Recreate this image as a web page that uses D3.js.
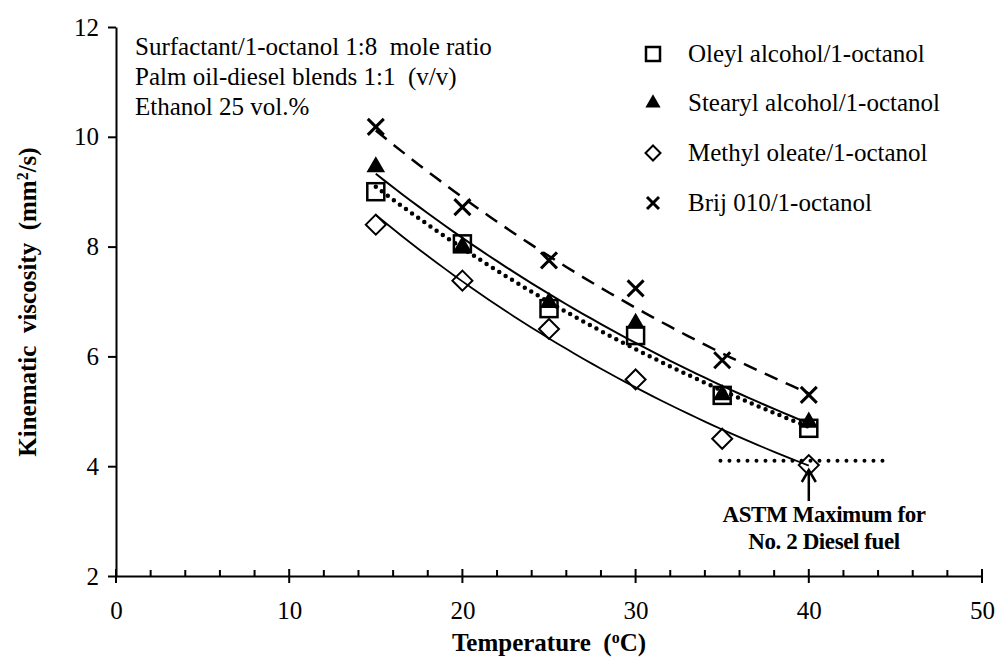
<!DOCTYPE html>
<html>
<head>
<meta charset="utf-8">
<script src="https://cdn.jsdelivr.net/npm/d3@7/dist/d3.min.js"></script>
<style>
  html, body { margin: 0; padding: 0; background: #fff; }
  svg { display: block; }
</style>
</head>
<body>
<svg id="chart" width="999" height="670"></svg>
<script>
// Kinematic viscosity of microemulsion fuels vs temperature
const temperatures = [15, 20, 25, 30, 35, 40];
const oleyl   = [9.00, 8.05, 6.87, 6.38, 5.29, 4.69];
const stearyl = [9.45, 8.00, 6.98, 6.60, 5.30, 4.80];
const methyl  = [8.40, 7.38, 6.50, 5.58, 4.50, 4.02];
const brij    = [10.18, 8.72, 7.75, 7.24, 5.93, 5.30];
const seriesNames = ["Oleyl alcohol/1-octanol", "Stearyl alcohol/1-octanol", "Methyl oleate/1-octanol", "Brij 010/1-octanol"];
const xTicks = [0, 10, 20, 30, 40, 50];
const yTicks = [2, 4, 6, 8, 10, 12];
const astmLimit = 4.1;
const astmRange = [34.9, 44.5];
const notes = ["Surfactant/1-octanol 1:8\u00a0 mole ratio", "Palm oil-diesel blends 1:1\u00a0 (v/v)", "Ethanol 25 vol.%"];

const FONT = "Liberation Serif";
const svg = d3.select("#chart");
const x = d3.scaleLinear().domain([0, 50]).range([116, 982]);
const y = d3.scaleLinear().domain([2, 12]).range([576, 27]);

function serif(sel, size, bold) {
  return sel.style("font-family", FONT).style("font-size", size + "px")
    .style("font-weight", bold ? "bold" : "normal").style("fill", "#000");
}

// axes
const gx = svg.append("g").attr("transform", `translate(0,${y(2)})`);
gx.call(d3.axisBottom(x).tickValues(xTicks).tickSizeInner(0).tickSizeOuter(0).tickPadding(0).tickFormat(d3.format("d")));
gx.select(".domain").attr("stroke", "#000").attr("stroke-width", 2);
serif(gx.selectAll(".tick text"), 25).attr("dy", 0).attr("y", 43);
// major ticks cross the axis, minor ticks point inward
gx.selectAll(".major").data(xTicks).enter().append("line")
  .attr("x1", d => x(d)).attr("x2", d => x(d)).attr("y1", -7).attr("y2", 7)
  .attr("stroke", "#000").attr("stroke-width", 2);
const minor = d3.range(0, 51, 2).filter(v => v % 10 !== 0);
gx.selectAll(".minor").data(minor).enter().append("line")
  .attr("x1", d => x(d)).attr("x2", d => x(d)).attr("y1", -6).attr("y2", 0)
  .attr("stroke", "#000").attr("stroke-width", 2);

const gy = svg.append("g").attr("transform", `translate(${x(0)},0)`);
gy.call(d3.axisLeft(y).tickValues(yTicks).tickSizeInner(8).tickSizeOuter(0).tickPadding(9).tickFormat(d3.format("d")));
gy.select(".domain").attr("stroke", "#000").attr("stroke-width", 2);
gy.selectAll(".tick line").attr("stroke", "#000").attr("stroke-width", 2);
serif(gy.selectAll(".tick text"), 25);

// axis titles
const xt = serif(svg.append("text").attr("x", 549).attr("y", 651).attr("text-anchor", "middle"), 25, true);
xt.append("tspan").text("Temperature\u00a0 (");
xt.append("tspan").attr("baseline-shift", "super").style("font-size", "16px").text("o");
xt.append("tspan").text("C)");

const yt = serif(svg.append("text").attr("transform", "translate(36,302) rotate(-90)").attr("text-anchor", "middle"), 25, true);
yt.append("tspan").text("Kinematic\u00a0 viscosity\u00a0 (mm");
yt.append("tspan").attr("baseline-shift", "super").style("font-size", "16px").text("2");
yt.append("tspan").text("/s)");

// notes
serif(svg.selectAll(".note").data(notes).enter().append("text")
  .attr("x", 135).attr("y", (d, i) => 55 + i * 30), 25).text(d => d);

// exponential trend lines (least squares on ln values)
function expFit(xs, ys) {
  const ly = ys.map(Math.log);
  const mx = d3.mean(xs), my = d3.mean(ly);
  const b = d3.sum(xs.map((v, i) => (v - mx) * (ly[i] - my))) / d3.sum(xs.map(v => (v - mx) ** 2));
  const a = my - b * mx;
  return t => Math.exp(a + b * t);
}
const line = d3.line().x(d => x(d[0])).y(d => y(d[1]));
const samples = d3.range(15, 40.01, 0.5);
function trend(vals, dash, width, cap) {
  const f = expFit(temperatures, vals);
  svg.append("path").datum(samples.map(t => [t, f(t)])).attr("d", line)
    .attr("fill", "none").attr("stroke", "#000").attr("stroke-width", width)
    .attr("stroke-dasharray", dash).attr("stroke-linecap", cap);
}
trend(brij, "14,9", 2.5, "butt");
trend(stearyl, null, 2, "butt");
trend(oleyl, "0,7.5", 4.5, "round");
trend(methyl, null, 1.8, "butt");

// ASTM limit
svg.append("path").datum(astmRange.map(t => [t, astmLimit])).attr("d", line)
  .attr("stroke", "#000").attr("stroke-width", 4).attr("stroke-dasharray", "0,9").attr("stroke-linecap", "round");
svg.append("line").attr("x1", x(40)).attr("x2", x(40)).attr("y1", 501).attr("y2", 470)
  .attr("stroke", "#000").attr("stroke-width", 2.5);
svg.append("path").attr("d", `M${x(40) - 7},${482} L${x(40)},${470} L${x(40) + 7},${482}`)
  .attr("fill", "none").attr("stroke", "#000").attr("stroke-width", 2.5);
serif(svg.append("text").attr("x", 824).attr("y", 522).attr("text-anchor", "middle"), 23, true)
  .style("letter-spacing", "-0.4px").text("ASTM Maximum for");
serif(svg.append("text").attr("x", 824).attr("y", 549).attr("text-anchor", "middle"), 23, true)
  .style("letter-spacing", "-0.4px").text("No. 2 Diesel fuel");

// markers
function drawSquare(g, cx, cy, s) {
  g.append("rect").attr("x", cx - s / 2).attr("y", cy - s / 2).attr("width", s).attr("height", s)
    .attr("fill", "none").attr("stroke", "#000").attr("stroke-width", 2.5);
}
function drawTriangle(g, cx, cy, s) {
  g.append("path").attr("d", d3.symbol().type(d3.symbolTriangle).size(s)()).attr("transform", `translate(${cx},${cy})`)
    .attr("fill", "#000");
}
function drawDiamond(g, cx, cy, r) {
  g.append("path").attr("d", `M${cx},${cy - r} L${cx + r},${cy} L${cx},${cy + r} L${cx - r},${cy} Z`)
    .attr("fill", "none").attr("stroke", "#000").attr("stroke-width", 2);
}
function drawCross(g, cx, cy, r, w) {
  g.append("path").attr("d", `M${cx - r},${cy - r} L${cx + r},${cy + r} M${cx - r},${cy + r} L${cx + r},${cy - r}`)
    .attr("stroke", "#000").attr("stroke-width", w);
}
const gm = svg.append("g");
temperatures.forEach((t, i) => drawTriangle(gm, x(t), y(stearyl[i]), 150));
temperatures.forEach((t, i) => drawSquare(gm, x(t), y(oleyl[i]), 17));
temperatures.forEach((t, i) => drawDiamond(gm, x(t), y(methyl[i]), 10));
temperatures.forEach((t, i) => drawCross(gm, x(t), y(brij[i]), 8, 3));

// legend
const legendY = [54, 103, 153, 203];
const lg = svg.append("g");
drawSquare(lg, 653, legendY[0], 14);
drawTriangle(lg, 653, legendY[1], 100);
drawDiamond(lg, 653, legendY[2], 7.5);
drawCross(lg, 653, legendY[3], 6, 3);
serif(lg.selectAll("text").data(seriesNames).enter().append("text")
  .attr("x", 688).attr("y", (d, i) => legendY[i] + 8), 25).text(d => d);
</script>
</body>
</html>
